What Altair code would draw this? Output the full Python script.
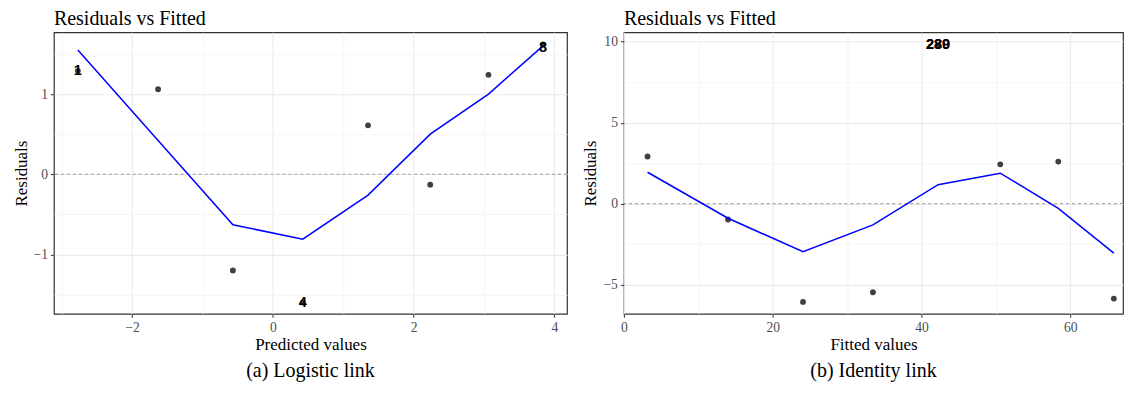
import json
import altair as alt
import pandas as pd

# ---------------- Panel (a): logistic link ----------------
a_fitted = [-2.77, -1.63, -0.567, 0.426, 1.353, 2.237, 3.064, 3.84]
a_resid = [1.29, 1.06, -1.20, -1.60, 0.61, -0.13, 1.24, 1.62]
a_smooth = [1.55, 0.42, -0.63, -0.81, -0.26, 0.50, 1.00, 1.60]
a_label_x = [-2.77, 0.426, 3.84]
a_label_y = [1.29, -1.60, 1.58]
a_label_text = ["1", "4", "8"]
a_x_major = [-2, 0, 2, 4]
a_x_minor = [-3, -1, 1, 3]
a_y_major = [-1, 0, 1]
a_y_minor = [-1.5, -0.5, 0.5, 1.5]
a_x_domain = [-3.11, 4.18]
a_y_domain = [-1.74, 1.77]
a_x_title = "Predicted values"

# ---------------- Panel (b): identity link ----------------
b_fitted = [3.18, 14.0, 24.08, 33.48, 42.24, 50.6, 58.4, 65.87]
b_resid = [2.91, -0.98, -6.07, -5.47, 9.77, 2.43, 2.60, -5.86]
b_smooth = [1.94, -0.90, -2.97, -1.31, 1.17, 1.88, -0.29, -3.05]
b_label_x = [42.24, 42.24]
b_label_y = [9.77, 9.77]
b_label_text = ["289", "280"]
b_x_major = [0, 20, 40, 60]
b_x_minor = [10, 30, 50]
b_y_major = [-5, 0, 5, 10]
b_y_minor = [-2.5, 2.5, 7.5]
b_x_domain = [0, 67.1]
b_y_domain = [-6.8, 10.58]
b_x_title = "Fitted values"

panel_title = "Residuals vs Fitted"
y_title = "Residuals"
captions = ["(a) Logistic link", "(b) Identity link"]
ref_line = [0]

SERIF = "Liberation Serif"
W_A, W_B, H = 514, 500, 282


def make_axis(title, major, minor):
    minor_js = json.dumps(minor)
    test = f"indexof({minor_js}, datum.value) >= 0"
    return alt.Axis(
        title=title,
        values=sorted(major + minor),
        grid=True,
        gridColor={"condition": {"test": test, "value": "#F3F3F3"}, "value": "#EBEBEB"},
        gridWidth={"condition": {"test": test, "value": 0.8}, "value": 1.1},
        tickOpacity={"condition": {"test": test, "value": 0}, "value": 1},
        labelExpr=f"{test} ? '' : format(datum.value, '.0f')",
        labelOverlap=False,
        labelFlush=False,
        domain=False,
        ticks=True,
        tickSize=3.5,
        tickColor="#333333",
        tickWidth=1,
        labelPadding=3,
        labelColor="#4D4D4D",
        labelFont=SERIF,
        labelFontSize=13.6,
        titleFont=SERIF,
        titleFontSize=17,
        titleFontWeight="normal",
        titleColor="black",
        titlePadding=3,
    )


def panel(fitted, resid, smooth, lx, ly, lt, xmaj, xmin, ymaj, ymin,
          xdom, ydom, xtitle, caption, width):
    pts = pd.DataFrame({"fitted": fitted, "resid": resid, "smooth": smooth})
    labs = pd.DataFrame({"fitted": lx, "resid": ly, "label": lt})
    zero = pd.DataFrame({"y": ref_line})
    cap = pd.DataFrame({"caption": [caption]})

    x_enc = alt.X("fitted:Q",
                  scale=alt.Scale(domain=xdom, nice=False, zero=False),
                  axis=make_axis(xtitle, xmaj, xmin))
    y_enc = alt.Y("resid:Q",
                  scale=alt.Scale(domain=ydom, nice=False, zero=False),
                  axis=make_axis(y_title, ymaj, ymin))

    zero_rule = alt.Chart(zero).mark_rule(
        color="#8F8F8F", strokeWidth=0.9, strokeDash=[3, 3]
    ).encode(y=alt.Y("y:Q"))

    points = alt.Chart(pts).mark_circle(
        size=34, color="#3F3F3F", opacity=1
    ).encode(x=x_enc, y=y_enc)

    line = alt.Chart(pts).mark_line(
        color="#0000FF", strokeWidth=1.5
    ).encode(x="fitted:Q", y="smooth:Q", order="fitted:Q")

    labels = alt.Chart(labs).mark_text(
        font="Liberation Sans", fontSize=14.5, fontWeight="bold",
        color="black", baseline="middle", align="center"
    ).encode(x="fitted:Q", y="resid:Q", text="label:N")

    cap_text = alt.Chart(cap).mark_text(
        font=SERIF, fontSize=20, color="black", baseline="middle", align="center"
    ).encode(x=alt.value(width / 2), y=alt.value(H + 57), text="caption:N")

    return alt.layer(points, zero_rule, line, labels, cap_text).properties(
        width=width, height=H,
        title=alt.TitleParams(panel_title, anchor="start", frame="group",
                              font=SERIF, fontSize=20, fontWeight="normal",
                              color="black", offset=3),
    )


left = panel(a_fitted, a_resid, a_smooth, a_label_x, a_label_y, a_label_text,
             a_x_major, a_x_minor, a_y_major, a_y_minor, a_x_domain, a_y_domain,
             a_x_title, captions[0], W_A)
right = panel(b_fitted, b_resid, b_smooth, b_label_x, b_label_y, b_label_text,
              b_x_major, b_x_minor, b_y_major, b_y_minor, b_x_domain, b_y_domain,
              b_x_title, captions[1], W_B)

chart = alt.hconcat(left, right, spacing=57, bounds="flush").properties(
    padding={"left": 3, "top": 0, "right": 0, "bottom": 0},
    background="white",
).configure_view(stroke="#333333", strokeWidth=1.2)

chart.save("out.html", embed_options={"renderer": "svg", "actions": False})
